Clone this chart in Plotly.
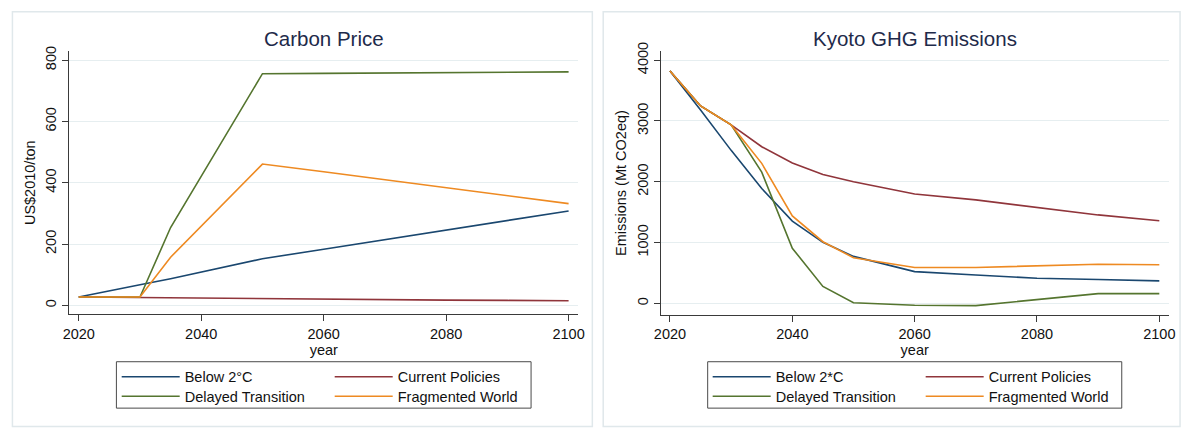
import plotly.graph_objects as go

W, H = 1192, 428

years = [2020, 2025, 2030, 2035, 2040, 2045, 2050, 2060, 2070, 2080, 2090, 2100]

scen_left = ["Below 2°C", "Current Policies", "Delayed Transition", "Fragmented World"]
scen_right = ["Below 2*C", "Current Policies", "Delayed Transition", "Fragmented World"]

price_below2 = [27, 48, 67, 87, 108, 130, 152, 183, 214, 245, 277, 308]
price_current = [27, 26, 25, 24, 23, 22, 21, 19, 18, 17, 16, 15]
price_delayed = [27, 27, 27, 254, 420, 588, 756, 757, 758, 759, 760, 762]
price_fragmented = [27, 27, 27, 157, 258, 360, 461, 436, 410, 384, 358, 332]

emis_below2 = [3822, 3180, 2517, 1889, 1353, 1004, 773, 522, 467, 414, 392, 370]
emis_current = [3822, 3247, 2936, 2576, 2308, 2120, 2002, 1799, 1702, 1584, 1455, 1359]
emis_delayed = [3822, 3247, 2936, 2158, 907, 279, 11, -32, -37, 64, 161, 161]
emis_fragmented = [3822, 3247, 2936, 2303, 1439, 1014, 751, 591, 591, 618, 644, 634]

price_ticks = [0, 200, 400, 600, 800]
emis_ticks = [0, 1000, 2000, 3000, 4000]
year_ticks = [2020, 2040, 2060, 2080, 2100]

colors = ["#1a476f", "#90353b", "#55752f", "#ee8a22"]
FONT = "Liberation Sans, Arial, Helvetica, sans-serif"


def px(x):
    return x / W


def py(y):
    return 1 - y / H


fig = go.Figure()

left_series = [price_below2, price_current, price_delayed, price_fragmented]
right_series = [emis_below2, emis_current, emis_delayed, emis_fragmented]
# row legends: row 1 = Below2 + Current, row 2 = Delayed + Fragmented
left_legs = ["legend", "legend", "legend2", "legend2"]
right_legs = ["legend3", "legend3", "legend4", "legend4"]

for i in range(4):
    fig.add_trace(go.Scatter(x=years, y=left_series[i], mode="lines", name=scen_left[i],
                             line=dict(color=colors[i], width=1.6), xaxis="x", yaxis="y",
                             legend=left_legs[i]))
for i in range(4):
    fig.add_trace(go.Scatter(x=years, y=right_series[i], mode="lines", name=scen_right[i],
                             line=dict(color=colors[i], width=1.6), xaxis="x2", yaxis="y2",
                             legend=right_legs[i]))

axis_common = dict(showline=True, linecolor="#3a3a3a", linewidth=1, ticks="outside",
                   ticklen=6, tickcolor="#3a3a3a", tickfont=dict(family=FONT, size=14.5, color="#111"),
                   zeroline=False)

grid_col = "#e6eef0"

fig.update_layout(
    width=W, height=H, autosize=False,
    margin=dict(l=0, r=0, t=0, b=0),
    paper_bgcolor="white", plot_bgcolor="white",
    font=dict(family=FONT, size=14.5, color="#111"),
    xaxis=dict(domain=[px(63), px(578)], range=[2018.45, 2101.57], tickvals=year_ticks,
               showgrid=False, anchor="y",
               title=dict(text="year", font=dict(family=FONT, size=14.5, color="#111"), standoff=2),
               **axis_common),
    yaxis=dict(domain=[py(311.7), py(43.3)], range=[-28.8, 828.8], tickvals=price_ticks,
               showgrid=True, gridcolor=grid_col, gridwidth=1, tickangle=-90, anchor="x",
               title=dict(text="US$2010/ton", font=dict(family=FONT, size=14.5, color="#111"), standoff=4),
               **axis_common),
    xaxis2=dict(domain=[px(661.4), px(1175.6)], range=[2018.47, 2101.55], tickvals=year_ticks,
                showgrid=False, anchor="y2",
                title=dict(text="year", font=dict(family=FONT, size=14.5, color="#111"), standoff=2),
                **axis_common),
    yaxis2=dict(domain=[py(312.3), py(43.3)], range=[-187, 4145], tickvals=emis_ticks,
                showgrid=True, gridcolor=grid_col, gridwidth=1, tickangle=-90, anchor="x2",
                title=dict(text="Emissions (Mt CO2eq)", font=dict(family=FONT, size=14.5, color="#111"), standoff=4),
                **axis_common),
)

leg_common = dict(orientation="h", xanchor="left", yanchor="middle", entrywidth=140,
                  entrywidthmode="pixels", itemwidth=58, bgcolor="rgba(0,0,0,0)", borderwidth=0,
                  font=dict(family=FONT, size=14.5, color="#111"), traceorder="normal",
                  tracegroupgap=0)
fig.update_layout(
    legend=dict(x=px(111), y=py(375.7), **leg_common),
    legend2=dict(x=px(111), y=py(395.7), **leg_common),
    legend3=dict(x=px(709), y=py(375.7), **leg_common),
    legend4=dict(x=px(709), y=py(395.7), **leg_common),
)

shapes = []
# panel borders
for (x0, x1) in [(5.5, 592.3), (603.3, 1187)]:
    shapes.append(dict(type="rect", xref="paper", yref="paper", x0=px(x0), x1=px(x1),
                       y0=py(426.5), y1=py(2.7), line=dict(color="#e0e8eb", width=1.5),
                       fillcolor="rgba(0,0,0,0)", layer="below"))
# legend boxes
for (x0, x1) in [(110.7, 530.3), (709, 1128)]:
    shapes.append(dict(type="rect", xref="paper", yref="paper", x0=px(x0), x1=px(x1),
                       y0=py(407.7), y1=py(360.3), line=dict(color="#4a4a4a", width=1),
                       fillcolor="rgba(0,0,0,0)"))
fig.update_layout(shapes=shapes)

fig.add_annotation(text="Carbon Price", x=px((63 + 578) / 2), y=py(30), xref="paper", yref="paper",
                   showarrow=False, xanchor="center", yanchor="middle",
                   font=dict(family=FONT, size=20.5, color="#1e2a4a"))
fig.add_annotation(text="Kyoto GHG Emissions", x=px((661.4 + 1175.6) / 2), y=py(30), xref="paper",
                   yref="paper", showarrow=False, xanchor="center", yanchor="middle",
                   font=dict(family=FONT, size=20.5, color="#1e2a4a"))

fig.write_html("out.html", config={"displayModeBar": False},
               post_script="document.body.style.margin='0px';document.body.style.overflow='hidden';")
